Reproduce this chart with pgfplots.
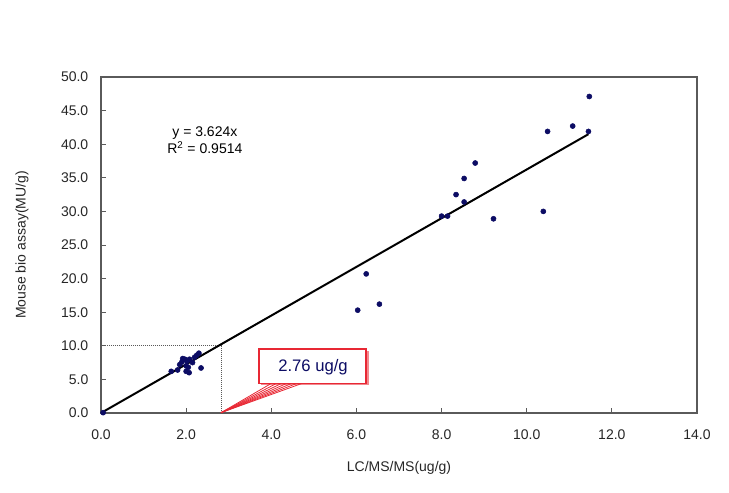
\documentclass[border=0pt]{standalone}
\usepackage{pgfplots}
\pgfplotsset{compat=1.18}
\usepackage{fontspec}
\setmainfont{Liberation Sans}
\definecolor{navy}{RGB}{12,12,100}
\definecolor{cred}{RGB}{232,40,52}
\definecolor{boxgray}{RGB}{90,90,90}
\begin{document}
\begin{tikzpicture}[x=0.75pt,y=0.75pt]
\useasboundingbox (-101,-80) rectangle (628,413);
\begin{axis}[at={(0,0)},anchor=south west,
  scale only axis, width=447pt, height=252pt,
  xmin=0,xmax=14,ymin=0,ymax=50,
  xtick={0,2,...,14}, ytick={0,5,...,50},
  tick align=inside, major tick length=3.5pt,
  axis line style={boxgray, line width=0.8pt},
  tick style={boxgray, line width=0.6pt},
  xtick pos=bottom, ytick pos=left,
  /pgf/number format/assume math mode=true,
  /pgf/number format/.cd, fixed, fixed zerofill, precision=1, /pgfplots/.cd,
  ticklabel style={font=\fontsize{10.5}{12}\selectfont, text=black!85},
  xticklabel style={yshift=-9pt},
  yticklabel style={xshift=-6pt},
  xlabel={LC/MS/MS(ug/g)}, ylabel={Mouse bio assay(MU/g)},
  label style={font=\fontsize{10.5}{12}\selectfont, text=black!85},
  xlabel style={at={(axis description cs:0.5,-0.1637)},anchor=center},
  ylabel style={at={(axis description cs:-0.1326,0.5)},anchor=center},
  clip=false,
]
% reference lines
\addplot[densely dotted, gray!70!black, line width=0.5pt] coordinates {(0,10) (2.82,10) (2.82,0)};
% regression line
\addplot[black, line width=1.5pt] coordinates {(0,0) (11.45,41.49)};
% data
\addplot[only marks, mark=*, mark size=1.9pt, color=navy] coordinates {
(0.05,0.05)
(1.65,6.2) (1.80,6.4) (1.85,7.2) (1.90,7.6) (1.92,8.1) (1.97,8.0)
(2.00,6.2) (2.02,7.7) (2.05,6.8) (2.07,6.0) (2.08,8.0) (2.15,7.5)
(2.20,8.3) (2.25,8.6) (2.30,8.9) (2.35,6.7) (2.00,7.0)
(6.03,15.3) (6.23,20.7) (6.54,16.2)
(8.00,29.3) (8.14,29.3) (8.34,32.5) (8.53,31.4) (8.53,34.9) (8.79,37.2)
(9.22,28.9) (10.39,30.0) (10.49,41.9) (11.08,42.7) (11.45,41.9) (11.47,47.1)
};
% equation
\node[font=\fontsize{10.5}{12}\selectfont, align=center, inner sep=0pt] at (axis cs:2.44,40.55) {y = 3.624x\\[1pt]R\textsuperscript{2} = 0.9514};
% callout
\fill[cred!55] (axis cs:3.77,9.30) rectangle (axis cs:6.30,4.20);
\filldraw[fill=white, draw=cred, line width=1.2pt] (axis cs:3.71,9.52) rectangle (axis cs:6.22,4.40);
\draw[cred, line width=0.6pt] (axis cs:2.82,0.05) -- (axis cs:4.00,4.40);
\draw[cred, line width=0.6pt] (axis cs:2.82,0.05) -- (axis cs:4.12,4.40);
\draw[cred, line width=0.6pt] (axis cs:2.82,0.05) -- (axis cs:4.24,4.40);
\draw[cred, line width=0.6pt] (axis cs:2.82,0.05) -- (axis cs:4.36,4.40);
\draw[cred, line width=0.6pt] (axis cs:2.82,0.05) -- (axis cs:4.48,4.40);
\draw[cred, line width=0.6pt] (axis cs:2.82,0.05) -- (axis cs:4.60,4.40);
\draw[cred, line width=0.6pt] (axis cs:2.82,0.05) -- (axis cs:4.72,4.40);
\fill[white] (axis cs:4.06,4.50) rectangle (axis cs:4.68,4.95);
\node[font=\fontsize{12.5}{14}\selectfont, text=navy] at (axis cs:4.98,6.8) {2.76 ug/g};
\end{axis}
\end{tikzpicture}
\end{document}
